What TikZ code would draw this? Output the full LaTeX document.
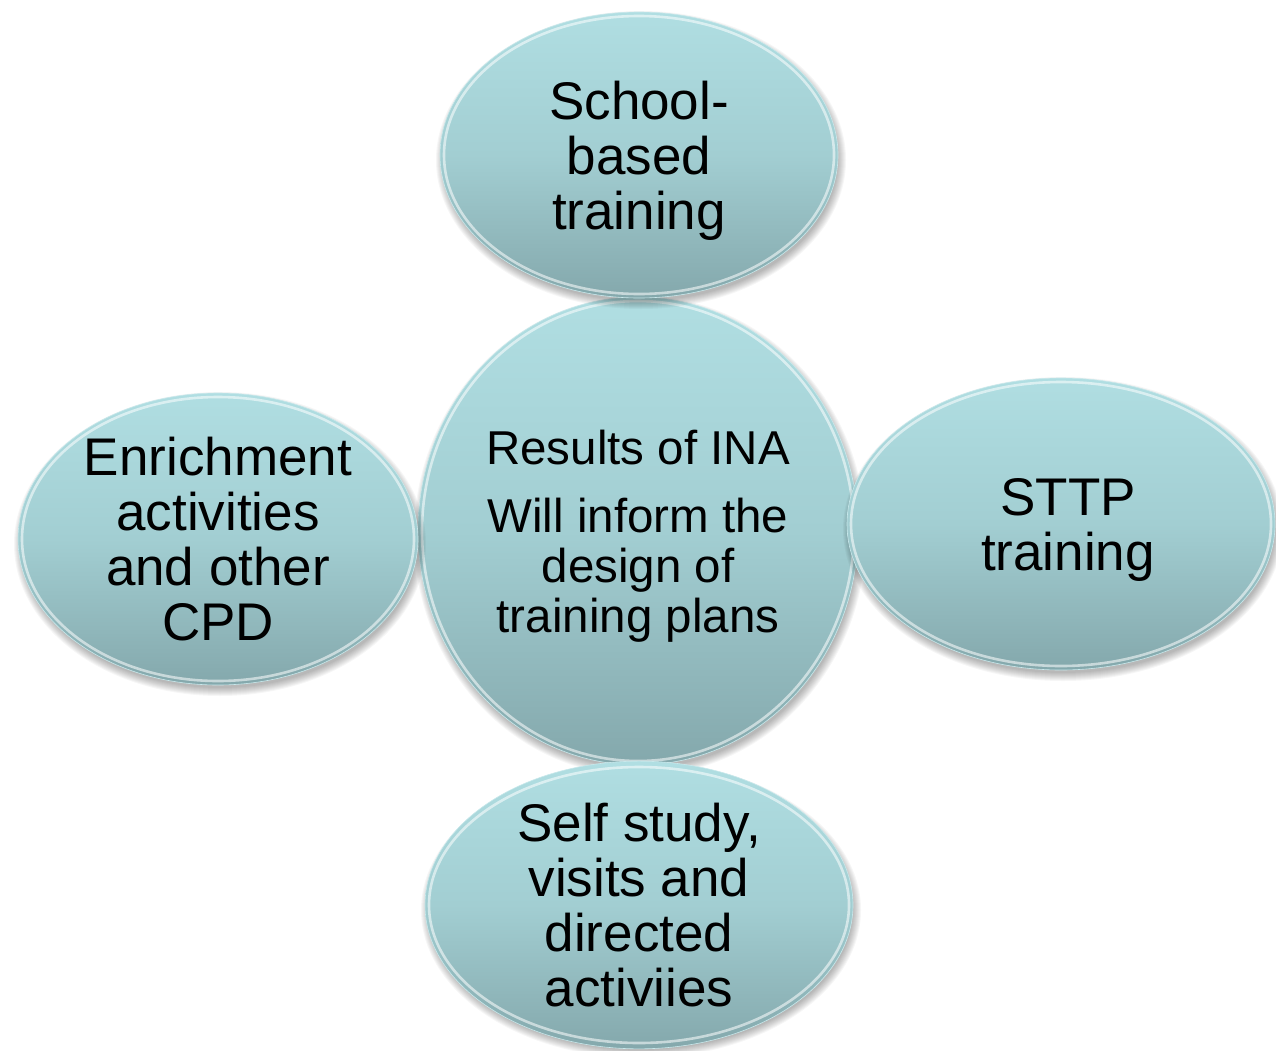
\documentclass[tikz,border=0pt]{standalone}
\usepackage{fontspec}
\setmainfont{Liberation Sans}
\usetikzlibrary{shapes.geometric}

\definecolor{glasstop}{RGB}{176,222,226}
\definecolor{glassmid}{RGB}{162,206,210}
\definecolor{glassbot}{RGB}{132,168,172}
\definecolor{glassrim}{RGB}{200,232,235}

\tikzset{
  bubble/.style={ellipse, inner sep=0pt, text depth=0pt, align=center,
    top color=glasstop, bottom color=glassbot, middle color=glassmid,
    draw=glassrim, line width=0.6pt},
  bigtext/.style={font=\fontsize{53}{55}\selectfont},
  midtext/.style={font=\fontsize{47.5}{50}\selectfont},
  rimline/.style={draw=white, opacity=0.55, line width=2.6pt},
}

% #1 name, #2 x, #3 y, #4 x radius, #5 y radius, #6 text style, #7 text
\newcommand\glassbubble[7]{%
  \foreach \k in {1,...,9}
    \fill[black, opacity=0.035] (#2+2,#3+5) ellipse [x radius={#4+\k-3}, y radius={#5+\k-3}];
  \node[bubble, #6, minimum width={2*#4 pt}, minimum height={2*#5 pt}] (#1) at (#2,#3) {#7};
  \draw[rimline] (#1.center) ellipse [x radius={#4-4}, y radius={#5-4}];
}

\begin{document}
\begin{tikzpicture}[x=1pt, y=-1pt]
  \useasboundingbox (0,0) rectangle (1276,1050);

  \glassbubble{core}{638}{531}{220}{234}{midtext}{Results of INA\\[18pt]Will inform the\\design of\\training plans}
  \glassbubble{school}{639}{155}{199}{143}{bigtext}{School-\\based\\training}
  \glassbubble{sttp}{1061}{524}{214}{146}{bigtext}{\hspace*{14pt}STTP\\\hspace*{14pt}training}
  \glassbubble{enrich}{218}{539}{200}{146}{bigtext}{Enrichment\\activities\\and other\\CPD}
  \glassbubble{self}{639}{905}{214}{142}{bigtext}{Self study,\\visits and\\directed\\activiies}
\end{tikzpicture}
\end{document}
